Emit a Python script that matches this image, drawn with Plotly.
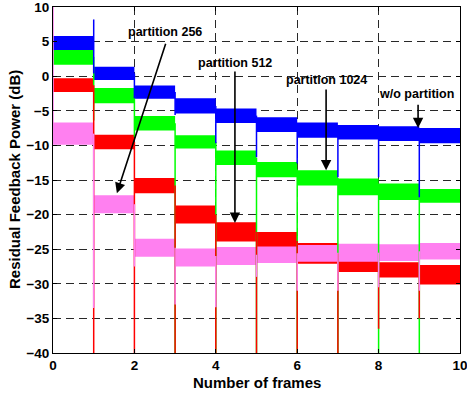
import plotly.graph_objects as go

# ---- data ----
frames = list(range(10))                      # frame k spans [k, k+1]
boundaries = list(range(1, 10))               # frame boundaries

blue_center = [4.8, 0.4, -2.3, -4.3, -5.7, -7.0, -7.8, -8.1, -8.3, -8.6]
blue_half = [1.0, 0.95, 0.95, 1.1, 1.05, 1.05, 1.1, 1.05, 1.05, 1.1]
green_center = [2.8, -2.8, -6.8, -9.5, -11.8, -13.5, -14.7, -16.0, -16.7, -17.3]
green_half = [1.15, 1.1, 1.05, 0.95, 1.05, 1.1, 1.1, 1.2, 1.2, 1.0]
red_center = [-1.3, -9.5, -15.8, -20.0, -22.5, -23.8, -25.6, -27.4, -28.0, -28.7]
red_half = [1.0, 1.05, 1.1, 1.3, 1.4, 1.3, 1.5, 0.9, 1.1, 1.4]
mag_center = [-8.3, -18.5, -24.8, -26.2, -26.0, -25.8, -25.6, -25.5, -25.5, -25.3]
mag_half = [1.6, 1.3, 1.3, 1.3, 1.3, 1.2, 1.2, 1.3, 1.2, 1.2]

# extreme value reached by each series at boundaries 1..9
blue_spike = [8.2, -3.2, -5.6, -9.7, -11.7, -12.6, -14.6, -14.6, -17.5]
green_spike = [-6.4, -8.8, -40, -40, -40, -40, -40, -40, -40]
red_spike = [-40, -40, -40, -40, -40, -40, -40, -36.5, -35]
mag_spike = [-33.5, -27.5, -33.0, -33.4, -29.0, -31.0, -31.0, -30.5, -31.0]
mag_start = 10.0   # initial transient at frame 0

x_ticks = [0, 2, 4, 6, 8, 10]
y_ticks = [-40, -35, -30, -25, -20, -15, -10, -5, 0, 5, 10]

labels = ["partition 256", "partition 512", "partition 1024", "w/o partition"]
label_pos = [(2.75, 6.4), (4.47, 1.9), (6.71, -0.6), (8.94, -2.6)]
arrow_tail = [(2.78, 4.9), (4.47, 0.9), (6.71, -1.7), (8.97, -3.9)]
arrow_tip = [(1.57, -16.9), (4.47, -21.2), (6.71, -13.6), (8.97, -7.5)]

x_title = "Number of frames"
y_title = "Residual Feedback Power (dB)"

BLUE = "#0000FF"
GREEN = "#00FF00"
RED = "#FF0000"
MAG = "#FF80F0"
FAMILY = "Liberation Sans, Arial, sans-serif"

fig = go.Figure()


def band_trace(center, half, color):
    xs, ys = [], []
    for k, c, h in zip(frames, center, half):
        xs += [k, k + 1, k + 1, k, k, None]
        ys += [c - h, c - h, c + h, c + h, c - h, None]
    return go.Scatter(x=xs, y=ys, fill="toself", fillcolor=color, mode="lines",
                      line=dict(width=0, color=color), hoverinfo="skip",
                      showlegend=False)


def spike_trace(center, spike, color, start=None):
    xs, ys = [], []
    if start is not None:
        xs += [0, 0, None]
        ys += [start, center[0], None]
    for b, s in zip(boundaries, spike):
        prev, nxt = center[b - 1], center[b]
        lo = min(prev, nxt, s)
        hi = max(prev, nxt, s)
        xs += [b, b, None]
        ys += [hi, lo, None]
    return go.Scatter(x=xs, y=ys, mode="lines", line=dict(width=1.5, color=color),
                      hoverinfo="skip", showlegend=False)


fig.add_trace(band_trace(green_center, green_half, GREEN))
fig.add_trace(band_trace(blue_center, blue_half, BLUE))
fig.add_trace(band_trace(red_center, red_half, RED))
fig.add_trace(band_trace(mag_center, mag_half, MAG))

fig.add_trace(spike_trace(green_center, green_spike, GREEN))
fig.add_trace(spike_trace(red_center, red_spike, RED))
fig.add_trace(spike_trace(mag_center, mag_spike, MAG, start=mag_start))
fig.add_trace(spike_trace(blue_center, blue_spike, BLUE))

font_b = dict(family=FAMILY, size=12.5, color="black", weight="bold")

for lab, (lx, ly), (tx, ty), (hx, hy) in zip(labels, label_pos, arrow_tail, arrow_tip):
    fig.add_annotation(x=lx, y=ly, text=lab, showarrow=False, font=font_b,
                       xanchor="center", yanchor="middle")
    fig.add_annotation(x=hx, y=hy, ax=tx, ay=ty, axref="x", ayref="y",
                       xref="x", yref="y", text="", showarrow=True,
                       arrowhead=2, arrowsize=1.3, arrowwidth=1.6, arrowcolor="black")

W, H = 467, 393
ML, MR, MT, MB = 53, 7, 7, 40
plot_w = W - ML - MR
plot_h = H - MT - MB

# axis titles (positions in paper coords computed from pixel targets)
title_font = dict(family=FAMILY, size=15, color="black", weight="bold")
fig.add_annotation(x=0.5, y=(H - MB - 382) / plot_h, xref="paper", yref="paper",
                   text=x_title, showarrow=False, font=title_font,
                   xanchor="center", yanchor="middle")
fig.add_annotation(x=(14 - ML) / plot_w, y=0.5, xref="paper", yref="paper",
                   text=y_title, textangle=-90, showarrow=False, font=title_font,
                   xanchor="center", yanchor="middle")

axis_common = dict(showline=True, linecolor="black", linewidth=1, mirror="ticks",
                   ticks="inside", ticklen=4, tickcolor="black",
                   showgrid=True, gridcolor="rgb(40,40,40)", gridwidth=1,
                   griddash="8px,5px", zeroline=False, automargin=False,
                   ticklabeloverflow="allow",
                   tickfont=dict(family=FAMILY, size=13.5, color="black", weight="bold"))

fig.update_xaxes(range=[0, 10], tickvals=x_ticks, **axis_common)
fig.update_yaxes(range=[-40, 10], tickvals=y_ticks, **axis_common)

fig.update_layout(width=W, height=H, margin=dict(l=ML, r=MR, t=MT, b=MB),
                  plot_bgcolor="white", paper_bgcolor="white", showlegend=False)

fig.write_html("out.html", config={"displayModeBar": False},
               post_script="document.body.style.margin='0';document.body.style.padding='0';")
